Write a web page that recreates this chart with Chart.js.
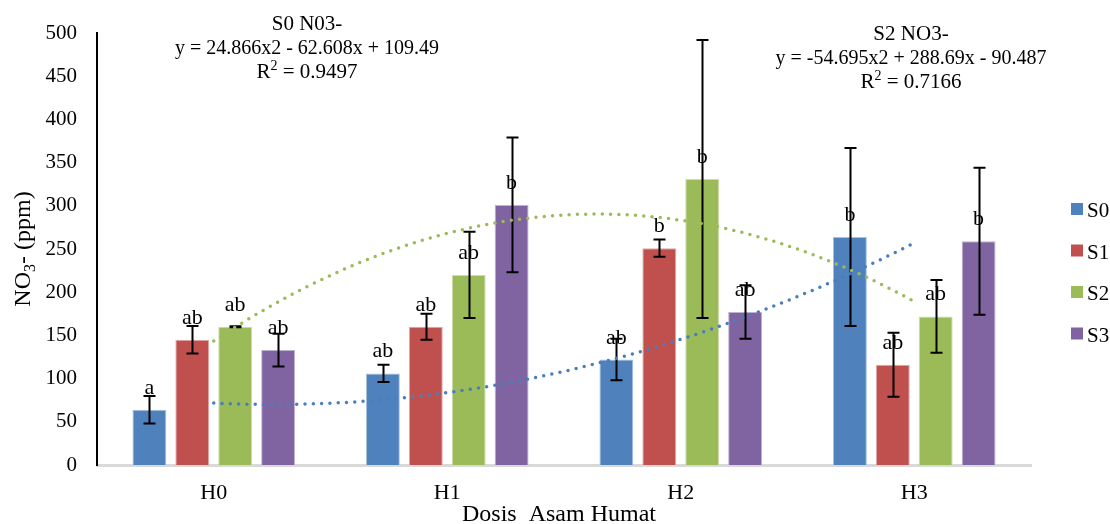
<!DOCTYPE html>
<html>
<head>
<meta charset="utf-8">
<script src="https://cdn.jsdelivr.net/npm/chart.js@4/dist/chart.umd.min.js"></script>
<style>
  html, body { margin: 0; padding: 0; background: #ffffff; }
  #wrap { width: 1110px; height: 524px; }
</style>
</head>
<body>
<div id="wrap"><canvas id="no3Chart" width="1110" height="524"></canvas></div>
<script>
// NO3- per perlakuan asam humat
const categories = ['H0', 'H1', 'H2', 'H3'];
const seriesNames = ['S0', 'S1', 'S2', 'S3'];
const seriesColors = ['#4f81bd', '#c0504d', '#9bbb59', '#8064a2'];
const seriesEdges = ['#a7c0de', '#e0a8a6', '#cddcac', '#bfb1d0'];

const s0Values = [64, 106, 122, 264];
const s1Values = [145, 160, 251, 116];
const s2Values = [160, 220, 331, 172];
const s3Values = [133, 301, 177, 259];

const s0Errors = [16, 10, 24, 103];
const s1Errors = [16, 15, 10, 37];
const s2Errors = [0.5, 50, 161, 42];
const s3Errors = [19, 78, 31, 85];

const s0Letters = ['a', 'ab', 'ab', 'b'];
const s1Letters = ['ab', 'ab', 'b', 'ab'];
const s2Letters = ['ab', 'ab', 'b', 'ab'];
const s3Letters = ['ab', 'b', 'ab', 'b'];

// koefisien trendline polinomial orde 2: [a, b, c] -> y = a*x^2 + b*x + c
const s0Trend = [24.866, -62.608, 109.49];
const s2Trend = [-54.695, 288.69, -90.487];
const s0R2 = '0.9497';
const s2R2 = '0.7166';

const yTicks = [0, 50, 100, 150, 200, 250, 300, 350, 400, 450, 500];

const allValues = [s0Values, s1Values, s2Values, s3Values];
const allErrors = [s0Errors, s1Errors, s2Errors, s3Errors];
const allLetters = [s0Letters, s1Letters, s2Letters, s3Letters];

const FONT = "'Liberation Serif', 'Times New Roman', serif";

function trendValue(coef, x) {
    return coef[0] * x * x + coef[1] * x + coef[2];
}

// text with a sub/superscript piece, centered on cx
function drawRichLine(ctx, parts, cx, baseline, size) {
    let total = 0;
    parts.forEach(p => {
        ctx.font = (p.small ? Math.round(size * 0.65) : size) + 'px ' + FONT;
        p.w = ctx.measureText(p.t).width;
        total += p.w;
    });
    let x = cx - total / 2;
    ctx.textAlign = 'left';
    ctx.textBaseline = 'alphabetic';
    parts.forEach(p => {
        ctx.font = (p.small ? Math.round(size * 0.65) : size) + 'px ' + FONT;
        ctx.fillText(p.t, x, baseline + (p.dy || 0));
        x += p.w;
    });
}

const extrasPlugin = {
    id: 'extras',
    afterDatasetsDraw(chart) {
        const ctx = chart.ctx;
        const xs = chart.scales.x;
        const ys = chart.scales.y;
        const area = chart.chartArea;
        ctx.save();

        // error bars
        ctx.strokeStyle = '#000000';
        ctx.lineWidth = 2;
        chart.data.datasets.forEach((ds, di) => {
            const meta = chart.getDatasetMeta(di);
            meta.data.forEach((bar, i) => {
                const v = allValues[di][i];
                const e = allErrors[di][i];
                const top = ys.getPixelForValue(v + e);
                const bot = ys.getPixelForValue(v - e);
                const cx = Math.round(bar.x) + 0.5;
                ctx.beginPath();
                ctx.moveTo(cx, top);
                ctx.lineTo(cx, bot);
                ctx.moveTo(cx - 6, top);
                ctx.lineTo(cx + 6, top);
                ctx.moveTo(cx - 6, bot);
                ctx.lineTo(cx + 6, bot);
                ctx.stroke();
            });
        });

        // trendlines (dotted)
        ctx.lineWidth = 3.5;
        ctx.lineCap = 'round';
        ctx.setLineDash([0, 8.3]);
        [[s0Trend, '#4a7ebb'], [s2Trend, '#9bbb59']].forEach(([coef, color]) => {
            ctx.strokeStyle = color;
            ctx.beginPath();
            for (let t = 1; t <= 4.0001; t += 0.02) {
                const px = xs.getPixelForValue(t - 1);
                const py = ys.getPixelForValue(trendValue(coef, t));
                if (t === 1) ctx.moveTo(px, py); else ctx.lineTo(px, py);
            }
            ctx.stroke();
        });
        ctx.setLineDash([]);

        // significance letters above bars
        ctx.fillStyle = '#000000';
        ctx.font = '22px ' + FONT;
        ctx.textAlign = 'center';
        ctx.textBaseline = 'alphabetic';
        chart.data.datasets.forEach((ds, di) => {
            const meta = chart.getDatasetMeta(di);
            meta.data.forEach((bar, i) => {
                ctx.fillText(allLetters[di][i], bar.x, bar.y - 16);
            });
        });

        // trendline equations
        const eqSize = 20;
        drawRichLine(ctx, [{ t: 'S0 N03-' }], 307, 30, 21);
        drawRichLine(ctx, [{ t: 'y = ' + s0Trend[0] + 'x2 - ' + Math.abs(s0Trend[1]).toFixed(3) + 'x + ' + s0Trend[2] }], 307, 54, eqSize);
        drawRichLine(ctx, [{ t: 'R' }, { t: '2', small: true, dy: -8 }, { t: ' = ' + s0R2 }], 307, 78, 21);

        drawRichLine(ctx, [{ t: 'S2 NO3-' }], 911, 40, 21);
        drawRichLine(ctx, [{ t: 'y = ' + s2Trend[0] + 'x2 + ' + s2Trend[1] + 'x - ' + Math.abs(s2Trend[2]) }], 911, 64, eqSize);
        drawRichLine(ctx, [{ t: 'R' }, { t: '2', small: true, dy: -8 }, { t: ' = ' + s2R2 }], 911, 88, 21);

        // y axis title: NO3- (ppm), rotated
        ctx.save();
        ctx.translate(30, (area.top + area.bottom) / 2);
        ctx.rotate(-Math.PI / 2);
        drawRichLine(ctx, [{ t: 'NO' }, { t: '3', small: true, dy: 5 }, { t: '- (ppm)' }], 0, 0, 24);
        ctx.restore();

        // x axis title
        ctx.font = '24px ' + FONT;
        ctx.textAlign = 'center';
        ctx.textBaseline = 'alphabetic';
        ctx.fillText('Dosis  Asam Humat', (area.left + area.right) / 2 - 5, 521);

        // legend
        ctx.font = '21px ' + FONT;
        ctx.textAlign = 'left';
        seriesNames.forEach((name, i) => {
            const y0 = 203 + i * 41.5;
            ctx.fillStyle = seriesColors[i];
            ctx.fillRect(1071, y0, 12, 12);
            ctx.fillStyle = '#000000';
            ctx.fillText(name, 1087, y0 + 14);
        });

        ctx.restore();
    }
};

new Chart(document.getElementById('no3Chart'), {
    type: 'bar',
    data: {
        labels: categories,
        datasets: seriesNames.map((name, i) => ({
            label: name,
            data: allValues[i],
            backgroundColor: seriesColors[i],
            borderColor: seriesEdges[i],
            borderWidth: 1,
            categoryPercentage: 0.735,
            barPercentage: 0.79
        }))
    },
    options: {
        responsive: false,
        animation: false,
        layout: {
            padding: { top: 33, right: 79, left: 0, bottom: 0 }
        },
        plugins: {
            legend: { display: false },
            tooltip: { enabled: false }
        },
        scales: {
            x: {
                grid: { display: false, drawTicks: false },
                border: { display: true, color: '#d9d9d9', width: 3 },
                ticks: {
                    color: '#000000',
                    font: { family: FONT, size: 22 },
                    padding: 15
                },
                afterFit(scale) { scale.height = 59; }
            },
            y: {
                min: 0,
                max: 500,
                afterBuildTicks(scale) { scale.ticks = yTicks.map(v => ({ value: v })); },
                grid: { display: false, drawTicks: false },
                border: { display: true, color: '#000000', width: 2 },
                ticks: {
                    color: '#000000',
                    font: { family: FONT, size: 21 },
                    padding: 20
                },
                afterFit(scale) { scale.width = 97; }
            }
        }
    },
    plugins: [extrasPlugin]
});
</script>
</body>
</html>
